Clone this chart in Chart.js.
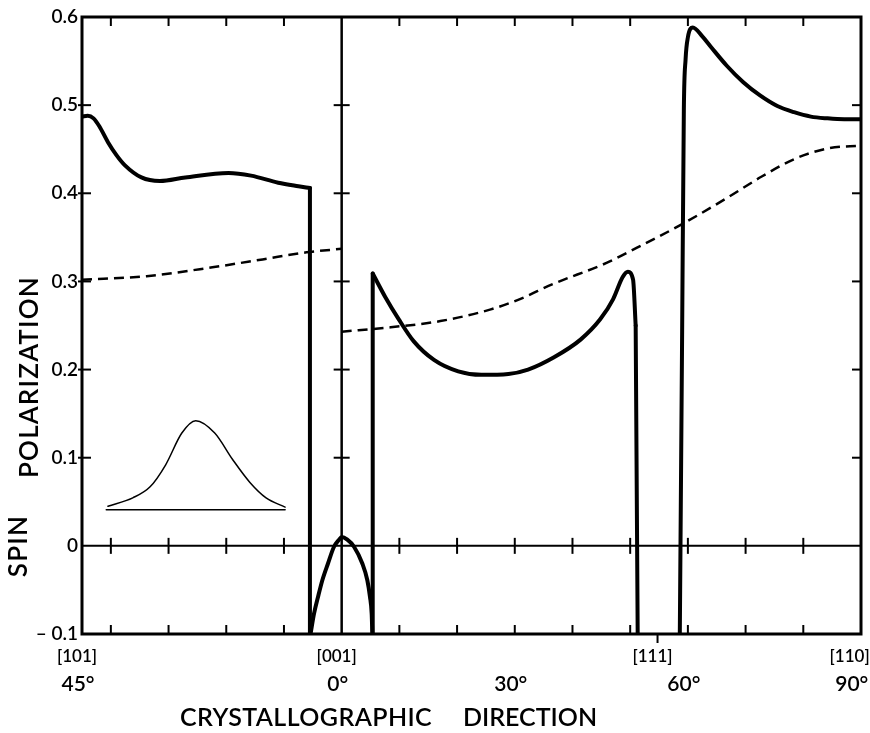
<!DOCTYPE html>
<html>
<head>
<meta charset="utf-8">
<title>Spin polarization vs crystallographic direction</title>
<script src="https://cdn.jsdelivr.net/npm/chart.js@4.4.1/dist/chart.umd.min.js"></script>
<style>
  body { margin: 0; background: #fff; }
  #wrap { width: 870px; height: 733px; }
</style>
</head>
<body>
<div id="wrap"><canvas id="chart"></canvas></div>
<script>
// angle axis: -45 is [101] (45 deg), 0 is [001], 90 is [110]
const angleA = [-45, -44.0, -43.0, -42.0, -40.5, -39.0, -37.6, -34.7, -31.5, -27.1, -19.6, -15.7, -11.0, -7.5, -5.5];
const spinA = [0.487, 0.488, 0.485, 0.476, 0.458, 0.443, 0.432, 0.418, 0.414, 0.418, 0.423, 0.420, 0.412, 0.408, 0.406];

const angleArch = [-5.37, -4.79, -4.10, -3.35, -2.37, -1.33, -0.46, 0, 0.98, 2.14, 3.58, 4.45, 4.91, 5.2, 5.31];
const spinArch = [-0.099, -0.077, -0.058, -0.039, -0.020, -0.001, 0.007, 0.010, 0.007, -0.001, -0.020, -0.039, -0.058, -0.077, -0.099];

const angleC = [5.38, 7.5, 9.9, 12.5, 16.0, 20.2, 24.2, 28.9, 32.3, 36.8, 41.4, 44.8, 47.05, 48.7, 49.6, 50.5, 50.95];
const spinC = [0.309, 0.283, 0.257, 0.232, 0.211, 0.198, 0.194, 0.195, 0.200, 0.214, 0.234, 0.257, 0.280, 0.305, 0.311, 0.302, 0.250];

const angleD = [58.6, 59.0, 59.3, 59.6, 60.0, 60.85, 62.5, 64.0, 66.7, 69.6, 72.5, 75.5, 78.4, 81.3, 84.2, 87.1, 90];
const spinD = [-0.1, 0.24, 0.495, 0.552, 0.577, 0.588, 0.578, 0.566, 0.545, 0.526, 0.511, 0.499, 0.492, 0.487, 0.485, 0.484, 0.484];

// vertical jumps of the solid curve
const jumpAngles = [[-5.5, -5.5], [5.33, 5.38], [50.95, 51.3]];
const jumpValues = [[0.406, -0.1], [-0.1, 0.309], [0.250, -0.1]];

// dashed curve
const angleDashL = [-45, -33.8, -22.4, -13.7, -6.1, 0];
const dashL = [0.302, 0.306, 0.316, 0.325, 0.333, 0.337];
const angleDashR = [0, 8.5, 17.1, 25.7, 30.9, 36.6, 45.9, 51.1, 59.0, 67.1, 72.8, 78.5, 84.3, 90];
const dashR = [0.243, 0.248, 0.255, 0.268, 0.280, 0.297, 0.321, 0.338, 0.365, 0.396, 0.419, 0.439, 0.451, 0.454];

// inset bell curve
const angleBell = [-40.5, -36.2, -33.2, -30.5, -27.7, -25.3, -22.0, -18.9, -15.9, -13.1, -9.8];
const bell = [0.045, 0.0545, 0.067, 0.092, 0.128, 0.142, 0.128, 0.098, 0.072, 0.0545, 0.044];
const bellBaseAngles = [-40.8, -9.8];
const bellBase = [0.041, 0.041];

// ticks
const yTicks = [-0.1, 0, 0.1, 0.2, 0.3, 0.4, 0.5, 0.6];
const yLabels = ['\u2013 0.1', '0', '0.1', '0.2', '0.3', '0.4', '0.5', '0.6'];
const dirTicks = [-45, 0, 54.74, 90];
const dirLabels = ['[101]', '[001]', '[111]', '[110]'];
const degTicks = [-45, 0, 30, 60, 90];
const degLabels = ['45\u00b0', '0\u00b0', '30\u00b0', '60\u00b0', '90\u00b0'];
const minorAngles = [-40, -30, -20, -10, 10, 20, 30, 40, 50, 60, 70, 80];
const minorValues = [0.1, 0.2, 0.3, 0.4, 0.5];

const pts = (xs, ys) => xs.map((x, i) => ({ x: x, y: ys[i] }));

function curve(xs, ys, width, dash, smooth) {
    return {
        data: pts(xs, ys),
        borderColor: '#000',
        borderWidth: width,
        borderDash: dash || [],
        pointRadius: 0,
        fill: false,
        tension: 0,
        cubicInterpolationMode: smooth ? 'monotone' : 'default',
        borderCapStyle: dash ? 'butt' : 'round',
        borderJoinStyle: 'round'
    };
}

const datasets = [
    curve(angleA, spinA, 4, null, true),
    curve(angleArch, spinArch, 4, null, true),
    curve(angleC, spinC, 4, null, true),
    curve(angleD, spinD, 4, null, true),
    curve(angleDashL, dashL, 2.5, [10, 6], true),
    curve(angleDashR, dashR, 2.5, [10, 6], true),
    curve(angleBell, bell, 1.5, null, true),
    curve(bellBaseAngles, bellBase, 1.5, null, false)
];
jumpAngles.forEach((xs, i) => datasets.push(curve(xs, jumpValues[i], 4, null, false)));

const font = 'Lato';
const weight = '600';

const axisMarks = {
    id: 'axisMarks',
    beforeDatasetsDraw(chart) {
        const { ctx, chartArea: a } = chart;
        const x = chart.scales.x, y = chart.scales.y;
        const line = (x1, y1, x2, y2) => { ctx.beginPath(); ctx.moveTo(x1, y1); ctx.lineTo(x2, y2); ctx.stroke(); };
        ctx.save();
        ctx.strokeStyle = '#000';
        ctx.lineWidth = 3;
        ctx.strokeRect(a.left, a.top, a.right - a.left, a.bottom - a.top);
        const y0 = y.getPixelForValue(0);
        const x0 = x.getPixelForValue(0);
        ctx.lineWidth = 2;
        line(a.left, y0, a.right, y0);
        ctx.lineWidth = 2.5;
        line(x0, a.top, x0, a.bottom);
        ctx.lineWidth = 2;
        minorAngles.forEach(v => {
            const px = x.getPixelForValue(v);
            line(px, a.top, px, a.top + 9);
            line(px, a.bottom, px, a.bottom - 9);
            line(px, y0 - 8, px, y0 + 8);
        });
        minorValues.forEach(v => {
            const py = y.getPixelForValue(v);
            line(a.left - 4, py, a.left + 9, py);
            line(a.right - 9, py, a.right, py);
            line(x0 - 8, py, x0 + 8, py);
        });
        const p111 = x.getPixelForValue(54.74);
        line(p111, a.bottom, p111, a.bottom + 9);
        ctx.restore();
    },
    afterDraw(chart) {
        const ctx = chart.ctx;
        const vertical = (text, cx, cy) => {
            ctx.save();
            ctx.translate(cx, cy);
            ctx.rotate(-Math.PI / 2);
            ctx.fillText(text, 0, 0);
            ctx.restore();
        };
        ctx.save();
        ctx.fillStyle = '#000';
        ctx.font = weight + ' 25px ' + font;
        ctx.textBaseline = 'middle';
        ctx.textAlign = 'left';
        ctx.letterSpacing = '0.4px';
        ctx.fillText('CRYSTALLOGRAPHIC', 180, 718);
        ctx.letterSpacing = '0px';
        ctx.fillText('DIRECTION', 463, 718);
        ctx.font = weight + ' 26px ' + font;
        ctx.letterSpacing = '1.2px';
        ctx.textAlign = 'center';
        vertical('POLARIZATION', 30, 377);
        vertical('SPIN', 19, 546);
        ctx.restore();
    }
};

new Chart(document.getElementById('chart'), {
    type: 'line',
    data: { datasets: datasets },
    plugins: [axisMarks],
    options: {
        responsive: true,
        maintainAspectRatio: false,
        animation: false,
        layout: { padding: { top: 17, right: 9, left: 0, bottom: 0 } },
        plugins: { legend: { display: false }, tooltip: { enabled: false } },
        scales: {
            x: {
                type: 'linear', position: 'bottom', min: -45, max: 90, weight: 0,
                grid: { display: false, drawTicks: false }, border: { display: false },
                afterBuildTicks: s => { s.ticks = dirTicks.map(v => ({ value: v })); },
                afterFit: s => { s.height = 36; s.paddingLeft = 0; s.paddingRight = 0; },
                ticks: {
                    autoSkip: false, maxRotation: 0, minRotation: 0, padding: 12, labelOffset: -5,
                    color: '#000', font: { family: font, size: 17, weight: weight },
                    callback: (v, i) => dirLabels[i] + (i === dirLabels.length - 1 ? '\u2003' : '')
                }
            },
            x2: {
                type: 'linear', position: 'bottom', min: -45, max: 90, weight: 1,
                grid: { display: false, drawTicks: false }, border: { display: false },
                afterBuildTicks: s => { s.ticks = degTicks.map(v => ({ value: v })); },
                afterFit: s => { s.height = 63; s.paddingLeft = 0; s.paddingRight = 0; },
                ticks: {
                    autoSkip: false, maxRotation: 0, minRotation: 0, padding: 2, labelOffset: -4,
                    color: '#000', font: { family: font, size: 21, weight: weight },
                    callback: (v, i) => degLabels[i] + (i === degLabels.length - 1 ? '\u2002' : '')
                }
            },
            y: {
                type: 'linear', min: -0.1, max: 0.6,
                grid: { display: false, drawTicks: false }, border: { display: false },
                afterBuildTicks: s => { s.ticks = yTicks.map(v => ({ value: v })); },
                afterFit: s => { s.width = 82; s.paddingTop = 0; s.paddingBottom = 0; },
                ticks: {
                    padding: 4, color: '#000', font: { family: font, size: 19, weight: weight },
                    callback: (v, i) => yLabels[i]
                }
            }
        }
    }
});
</script>
</body>
</html>
